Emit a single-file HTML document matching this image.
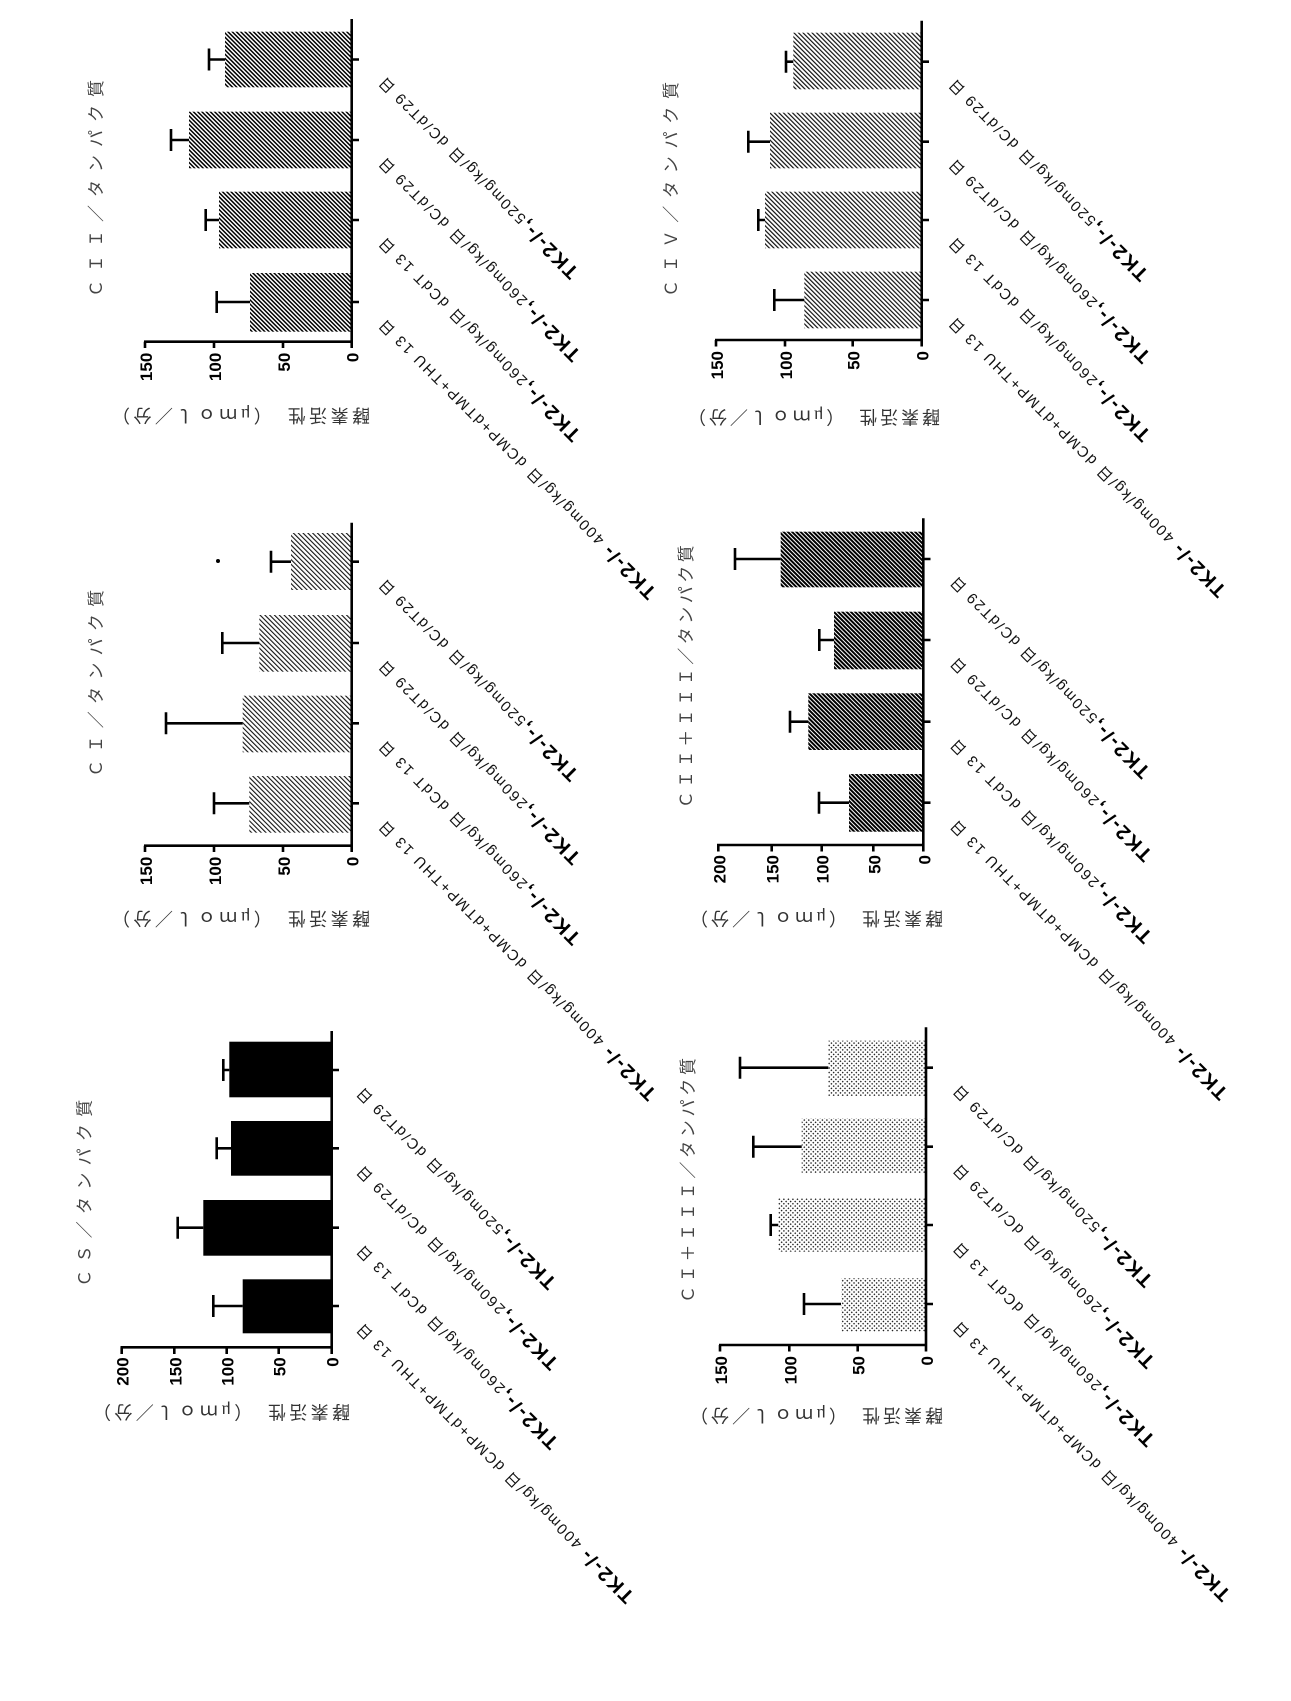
<!DOCTYPE html>
<html>
<head>
<meta charset="utf-8">
<style>
html,body{margin:0;padding:0;background:#fff;}
svg{display:block;}
.ax{stroke:#000;stroke-width:2.6;fill:none;}
.eb{stroke:#000;stroke-width:2.6;fill:none;}
.tk{font-family:"Liberation Sans",sans-serif;font-weight:bold;font-size:17px;fill:#000;}
.ti{font-family:"Liberation Serif","Noto Sans CJK JP",serif;font-size:17px;fill:#444;}
.al{font-family:"Liberation Serif","Noto Sans CJK JP",serif;font-size:18px;fill:#333;}
.cl{font-family:"Liberation Sans","Noto Sans CJK JP",sans-serif;font-size:15px;fill:#111;}
.b{font-weight:bold;font-size:20px;fill:#000;}
</style>
</head>
<body>
<svg width="1291" height="1701" viewBox="0 0 1291 1701" xmlns="http://www.w3.org/2000/svg">
<defs>
<pattern id="pCII" width="3" height="3" patternUnits="userSpaceOnUse" patternTransform="rotate(-45)"><rect width="1.5" height="3" fill="#000"/></pattern>
<pattern id="pCI" width="3.4" height="3.4" patternUnits="userSpaceOnUse" patternTransform="rotate(-45)"><rect width="1.1" height="3.4" fill="#111"/></pattern>
<pattern id="pCIV" width="3.2" height="3.2" patternUnits="userSpaceOnUse" patternTransform="rotate(-45)"><rect width="1.2" height="3.2" fill="#111"/></pattern>
<pattern id="pCII3" width="3" height="3" patternUnits="userSpaceOnUse" patternTransform="rotate(-45)"><rect width="2" height="3" fill="#000"/></pattern>
<pattern id="pCI3" width="3.2" height="3.2" patternUnits="userSpaceOnUse" patternTransform="rotate(-45)"><rect width="1.4" height="1.4" fill="#222"/></pattern>
</defs>
<rect width="1291" height="1701" fill="#fff"/>

<!-- ============ CII (top-left) ============ -->
<g>
<rect x="225" y="31.7" width="126.7" height="55.6" fill="url(#pCII)"/>
<rect x="189" y="111.7" width="162.7" height="56.6" fill="url(#pCII)"/>
<rect x="219" y="191.7" width="132.7" height="56.6" fill="url(#pCII)"/>
<rect x="250" y="273" width="101.7" height="58.7" fill="url(#pCII)"/>
<path class="eb" d="M225 59.5H209M209 48.5V70.5 M189 140H171M171 129V151 M219 220H205.7M205.7 209V231 M250 302H216.7M216.7 291V313"/>
<path class="ax" d="M351.7 19V343 M144 341.7H352.9 M145 341.7V348 M214 341.7V348 M283 341.7V348 M351.7 341.7V348 M351.7 59.5H359 M351.7 140H359 M351.7 220H359 M351.7 302H359"/>
<text class="tk" x="152" y="352.7" text-anchor="end" transform="rotate(-90 152 352.7)">150</text>
<text class="tk" x="221" y="352.7" text-anchor="end" transform="rotate(-90 221 352.7)">100</text>
<text class="tk" x="290" y="352.7" text-anchor="end" transform="rotate(-90 290 352.7)">50</text>
<text class="tk" x="358.7" y="352.7" text-anchor="end" transform="rotate(-90 358.7 352.7)">0</text>
<text class="ti" x="96.7" y="188.5" text-anchor="middle" dominant-baseline="central" textLength="217" lengthAdjust="spacing" transform="rotate(-90 96.7 188.5)">ＣＩＩ／タンパク質</text>
<text class="al" x="241" y="415" text-anchor="middle" dominant-baseline="central" textLength="258" lengthAdjust="spacing" transform="rotate(180 241 415)">酵素活性　（μｍｏｌ／分）</text>
<text class="cl" x="385.2" y="76.2" text-anchor="end" textLength="275" lengthAdjust="spacing" transform="rotate(225 385.2 76.2)"><tspan class="b">TK2-/-,</tspan>520mg/kg/日  dC/dT29 日</text>
<text class="cl" x="385.2" y="156.7" text-anchor="end" textLength="278" lengthAdjust="spacing" transform="rotate(225 385.2 156.7)"><tspan class="b">TK2-/-,</tspan>260mg/kg/日  dC/dT29 日</text>
<text class="cl" x="385.2" y="236.7" text-anchor="end" textLength="278" lengthAdjust="spacing" transform="rotate(225 385.2 236.7)"><tspan class="b">TK2-/-,</tspan>260mg/kg/日  dCdT 13 日</text>
<text class="cl" x="385.2" y="318.7" text-anchor="end" textLength="385" lengthAdjust="spacing" transform="rotate(225 385.2 318.7)"><tspan class="b">TK2-/-</tspan> 400mg/kg/日  dCMP+dTMP+THU 13 日</text>
</g>

<!-- ============ CI (middle-left) ============ -->
<g>
<rect x="291" y="533" width="60.7" height="57" fill="url(#pCI)"/>
<rect x="259.3" y="615" width="92.4" height="56.7" fill="url(#pCI)"/>
<rect x="242.7" y="695.7" width="109" height="56.6" fill="url(#pCI)"/>
<rect x="249.3" y="776" width="102.4" height="56.7" fill="url(#pCI)"/>
<path class="eb" d="M291 561.7H271M271 550.7V572.7 M259.3 643H222.3M222.3 632V654 M242.7 723.3H166M166 712.3V734.3 M249.3 803.3H214M214 792.3V814.3"/>
<circle cx="218" cy="561" r="2" fill="#000"/>
<path class="ax" d="M351.7 522.7V847 M144 845.7H352.9 M145 845.7V852 M214 845.7V852 M283 845.7V852 M351.7 845.7V852 M351.7 561.7H359 M351.7 643H359 M351.7 723.3H359 M351.7 803.3H359"/>
<text class="tk" x="152" y="856.7" text-anchor="end" transform="rotate(-90 152 856.7)">150</text>
<text class="tk" x="221" y="856.7" text-anchor="end" transform="rotate(-90 221 856.7)">100</text>
<text class="tk" x="290" y="856.7" text-anchor="end" transform="rotate(-90 290 856.7)">50</text>
<text class="tk" x="358.7" y="856.7" text-anchor="end" transform="rotate(-90 358.7 856.7)">0</text>
<text class="ti" x="96.7" y="683.3" text-anchor="middle" dominant-baseline="central" textLength="187" lengthAdjust="spacing" transform="rotate(-90 96.7 683.3)">ＣＩ／タンパク質</text>
<text class="al" x="241" y="918" text-anchor="middle" dominant-baseline="central" textLength="258" lengthAdjust="spacing" transform="rotate(180 241 918)">酵素活性　（μｍｏｌ／分）</text>
<text class="cl" x="385.2" y="578.4" text-anchor="end" textLength="275" lengthAdjust="spacing" transform="rotate(225 385.2 578.4)"><tspan class="b">TK2-/-,</tspan>520mg/kg/日  dC/dT29 日</text>
<text class="cl" x="385.2" y="659.7" text-anchor="end" textLength="278" lengthAdjust="spacing" transform="rotate(225 385.2 659.7)"><tspan class="b">TK2-/-,</tspan>260mg/kg/日  dC/dT29 日</text>
<text class="cl" x="385.2" y="740" text-anchor="end" textLength="278" lengthAdjust="spacing" transform="rotate(225 385.2 740)"><tspan class="b">TK2-/-,</tspan>260mg/kg/日  dCdT 13 日</text>
<text class="cl" x="385.2" y="820" text-anchor="end" textLength="385" lengthAdjust="spacing" transform="rotate(225 385.2 820)"><tspan class="b">TK2-/-</tspan> 400mg/kg/日  dCMP+dTMP+THU 13 日</text>
</g>

<!-- ============ CS (bottom-left) ============ -->
<g>
<rect x="229.3" y="1041.7" width="102.4" height="55.6" fill="#000"/>
<rect x="231" y="1121" width="100.7" height="54.7" fill="#000"/>
<rect x="203.3" y="1200" width="128.4" height="55.7" fill="#000"/>
<rect x="242.7" y="1279.3" width="89" height="54" fill="#000"/>
<path class="eb" d="M229.3 1070H223.3M223.3 1059V1081 M231 1148.3H216.7M216.7 1137.3V1159.3 M203.3 1227.7H177.7M177.7 1216.7V1238.7 M242.7 1306H213.3M213.3 1295V1317"/>
<path class="ax" d="M331.7 1031V1348.6 M120.5 1347.3H332.9 M121.7 1347.3V1354 M174.3 1347.3V1354 M226.7 1347.3V1354 M278.7 1347.3V1354 M331.7 1347.3V1354 M331.7 1070H339 M331.7 1148.3H339 M331.7 1227.7H339 M331.7 1306H339"/>
<text class="tk" x="128.7" y="1357.3" text-anchor="end" transform="rotate(-90 128.7 1357.3)">200</text>
<text class="tk" x="181.3" y="1357.3" text-anchor="end" transform="rotate(-90 181.3 1357.3)">150</text>
<text class="tk" x="233.7" y="1357.3" text-anchor="end" transform="rotate(-90 233.7 1357.3)">100</text>
<text class="tk" x="285.7" y="1357.3" text-anchor="end" transform="rotate(-90 285.7 1357.3)">50</text>
<text class="tk" x="338.7" y="1357.3" text-anchor="end" transform="rotate(-90 338.7 1357.3)">0</text>
<text class="ti" x="85" y="1193.3" text-anchor="middle" dominant-baseline="central" textLength="187" lengthAdjust="spacing" transform="rotate(-90 85 1193.3)">ＣＳ／タンパク質</text>
<text class="al" x="221.5" y="1411.7" text-anchor="middle" dominant-baseline="central" textLength="257" lengthAdjust="spacing" transform="rotate(180 221.5 1411.7)">酵素活性　（μｍｏｌ／分）</text>
<text class="cl" x="363" y="1086.7" text-anchor="end" textLength="275" lengthAdjust="spacing" transform="rotate(225 363 1086.7)"><tspan class="b">TK2-/-,</tspan>520mg/kg/日  dC/dT29 日</text>
<text class="cl" x="363" y="1165" text-anchor="end" textLength="278" lengthAdjust="spacing" transform="rotate(225 363 1165)"><tspan class="b">TK2-/-,</tspan>260mg/kg/日  dC/dT29 日</text>
<text class="cl" x="363" y="1244.4" text-anchor="end" textLength="278" lengthAdjust="spacing" transform="rotate(225 363 1244.4)"><tspan class="b">TK2-/-,</tspan>260mg/kg/日  dCdT 13 日</text>
<text class="cl" x="363" y="1322.7" text-anchor="end" textLength="385" lengthAdjust="spacing" transform="rotate(225 363 1322.7)"><tspan class="b">TK2-/-</tspan> 400mg/kg/日  dCMP+dTMP+THU 13 日</text>
</g>

<!-- ============ CIV (top-right) ============ -->
<g>
<rect x="793.3" y="32.7" width="128.4" height="56.6" fill="url(#pCIV)"/>
<rect x="770" y="112.7" width="151.7" height="55.6" fill="url(#pCIV)"/>
<rect x="765" y="191.7" width="156.7" height="56.6" fill="url(#pCIV)"/>
<rect x="804.3" y="271.7" width="117.4" height="56.6" fill="url(#pCIV)"/>
<path class="eb" d="M793.3 61.7H786M786 50.7V72.7 M770 141.7H748.3M748.3 130.7V152.7 M765 220H758.3M758.3 209V231 M804.3 300H774.3M774.3 289V311"/>
<path class="ax" d="M921.7 20.7V341.3 M715 340H922.9 M716 340V346.5 M785 340V346.5 M852.7 340V346.5 M921.7 340V346.5 M921.7 61.7H929 M921.7 141.7H929 M921.7 220H929 M921.7 300H929"/>
<text class="tk" x="723" y="351" text-anchor="end" transform="rotate(-90 723 351)">150</text>
<text class="tk" x="792" y="351" text-anchor="end" transform="rotate(-90 792 351)">100</text>
<text class="tk" x="859.7" y="351" text-anchor="end" transform="rotate(-90 859.7 351)">50</text>
<text class="tk" x="928.7" y="351" text-anchor="end" transform="rotate(-90 928.7 351)">0</text>
<text class="ti" x="671.7" y="189.5" text-anchor="middle" dominant-baseline="central" textLength="215" lengthAdjust="spacing" transform="rotate(-90 671.7 189.5)">ＣＩＶ／タンパク質</text>
<text class="al" x="814" y="416.7" text-anchor="middle" dominant-baseline="central" textLength="252" lengthAdjust="spacing" transform="rotate(180 814 416.7)">酵素活性　（μｍｏｌ／分）</text>
<text class="cl" x="955.2" y="78.4" text-anchor="end" textLength="275" lengthAdjust="spacing" transform="rotate(225 955.2 78.4)"><tspan class="b">TK2-/-,</tspan>520mg/kg/日  dC/dT29 日</text>
<text class="cl" x="955.2" y="158.4" text-anchor="end" textLength="278" lengthAdjust="spacing" transform="rotate(225 955.2 158.4)"><tspan class="b">TK2-/-,</tspan>260mg/kg/日  dC/dT29 日</text>
<text class="cl" x="955.2" y="236.7" text-anchor="end" textLength="278" lengthAdjust="spacing" transform="rotate(225 955.2 236.7)"><tspan class="b">TK2-/-,</tspan>260mg/kg/日  dCdT 13 日</text>
<text class="cl" x="955.2" y="316.7" text-anchor="end" textLength="385" lengthAdjust="spacing" transform="rotate(225 955.2 316.7)"><tspan class="b">TK2-/-</tspan> 400mg/kg/日  dCMP+dTMP+THU 13 日</text>
</g>

<!-- ============ CII+III (middle-right) ============ -->
<g>
<rect x="780.7" y="531.7" width="142.6" height="55.6" fill="url(#pCII3)"/>
<rect x="834" y="611.7" width="89.3" height="57.6" fill="url(#pCII3)"/>
<rect x="808.3" y="693.3" width="115" height="56.7" fill="url(#pCII3)"/>
<rect x="849" y="774" width="74.3" height="57.7" fill="url(#pCII3)"/>
<path class="eb" d="M780.7 559H735M735 548V570 M834 640H819.3M819.3 629V651 M808.3 721.7H790M790 710.7V732.7 M849 802.7H819M819 791.7V813.7"/>
<path class="ax" d="M923.3 518.3V846.3 M717 845H924.5 M718.3 845V851.5 M771.7 845V851.5 M821.7 845V851.5 M873.3 845V851.5 M923.3 845V851.5 M923.3 559H930.5 M923.3 640H930.5 M923.3 721.7H930.5 M923.3 802.7H930.5"/>
<text class="tk" x="725.3" y="855" text-anchor="end" transform="rotate(-90 725.3 855)">200</text>
<text class="tk" x="778.7" y="855" text-anchor="end" transform="rotate(-90 778.7 855)">150</text>
<text class="tk" x="828.7" y="855" text-anchor="end" transform="rotate(-90 828.7 855)">100</text>
<text class="tk" x="880.3" y="855" text-anchor="end" transform="rotate(-90 880.3 855)">50</text>
<text class="tk" x="930.3" y="855" text-anchor="end" transform="rotate(-90 930.3 855)">0</text>
<text class="ti" x="686.7" y="676.7" text-anchor="middle" dominant-baseline="central" textLength="263" lengthAdjust="spacing" transform="rotate(-90 686.7 676.7)">ＣＩＩ＋ＩＩＩ／タンパク質</text>
<text class="al" x="816.5" y="918" text-anchor="middle" dominant-baseline="central" textLength="253" lengthAdjust="spacing" transform="rotate(180 816.5 918)">酵素活性　（μｍｏｌ／分）</text>
<text class="cl" x="956.8" y="575.7" text-anchor="end" textLength="275" lengthAdjust="spacing" transform="rotate(225 956.8 575.7)"><tspan class="b">TK2-/-,</tspan>520mg/kg/日  dC/dT29 日</text>
<text class="cl" x="956.8" y="656.7" text-anchor="end" textLength="278" lengthAdjust="spacing" transform="rotate(225 956.8 656.7)"><tspan class="b">TK2-/-,</tspan>260mg/kg/日  dC/dT29 日</text>
<text class="cl" x="956.8" y="738.4" text-anchor="end" textLength="278" lengthAdjust="spacing" transform="rotate(225 956.8 738.4)"><tspan class="b">TK2-/-,</tspan>260mg/kg/日  dCdT 13 日</text>
<text class="cl" x="956.8" y="819.4" text-anchor="end" textLength="385" lengthAdjust="spacing" transform="rotate(225 956.8 819.4)"><tspan class="b">TK2-/-</tspan> 400mg/kg/日  dCMP+dTMP+THU 13 日</text>
</g>

<!-- ============ CI+III (bottom-right) ============ -->
<g>
<rect x="828.3" y="1040.7" width="97.7" height="55.3" fill="url(#pCI3)"/>
<rect x="801.7" y="1118.3" width="124.3" height="55" fill="url(#pCI3)"/>
<rect x="778.3" y="1198.3" width="147.7" height="53.4" fill="url(#pCI3)"/>
<rect x="841" y="1278.3" width="85" height="53.4" fill="url(#pCI3)"/>
<path class="eb" d="M828.3 1067.7H740M740 1056.7V1078.7 M801.7 1146.7H753.3M753.3 1135.7V1157.7 M778.3 1225H770.7M770.7 1214V1236 M841 1304H804M804 1293V1315"/>
<path class="ax" d="M926 1027.3V1346.3 M719 1345H927.2 M720 1345V1351.5 M789.3 1345V1351.5 M857.7 1345V1351.5 M926 1345V1351.5 M926 1067.7H933 M926 1146.7H933 M926 1225H933 M926 1304H933"/>
<text class="tk" x="727" y="1356" text-anchor="end" transform="rotate(-90 727 1356)">150</text>
<text class="tk" x="796.3" y="1356" text-anchor="end" transform="rotate(-90 796.3 1356)">100</text>
<text class="tk" x="864.7" y="1356" text-anchor="end" transform="rotate(-90 864.7 1356)">50</text>
<text class="tk" x="933" y="1356" text-anchor="end" transform="rotate(-90 933 1356)">0</text>
<text class="ti" x="688.3" y="1180.5" text-anchor="middle" dominant-baseline="central" textLength="245" lengthAdjust="spacing" transform="rotate(-90 688.3 1180.5)">ＣＩ＋ＩＩＩ／タンパク質</text>
<text class="al" x="816.5" y="1415" text-anchor="middle" dominant-baseline="central" textLength="253" lengthAdjust="spacing" transform="rotate(180 816.5 1415)">酵素活性　（μｍｏｌ／分）</text>
<text class="cl" x="959.5" y="1084.4" text-anchor="end" textLength="275" lengthAdjust="spacing" transform="rotate(225 959.5 1084.4)"><tspan class="b">TK2-/-,</tspan>520mg/kg/日  dC/dT29 日</text>
<text class="cl" x="959.5" y="1163.4" text-anchor="end" textLength="278" lengthAdjust="spacing" transform="rotate(225 959.5 1163.4)"><tspan class="b">TK2-/-,</tspan>260mg/kg/日  dC/dT29 日</text>
<text class="cl" x="959.5" y="1241.7" text-anchor="end" textLength="278" lengthAdjust="spacing" transform="rotate(225 959.5 1241.7)"><tspan class="b">TK2-/-,</tspan>260mg/kg/日  dCdT 13 日</text>
<text class="cl" x="959.5" y="1320.7" text-anchor="end" textLength="385" lengthAdjust="spacing" transform="rotate(225 959.5 1320.7)"><tspan class="b">TK2-/-</tspan> 400mg/kg/日  dCMP+dTMP+THU 13 日</text>
</g>
</svg>
</body>
</html>
